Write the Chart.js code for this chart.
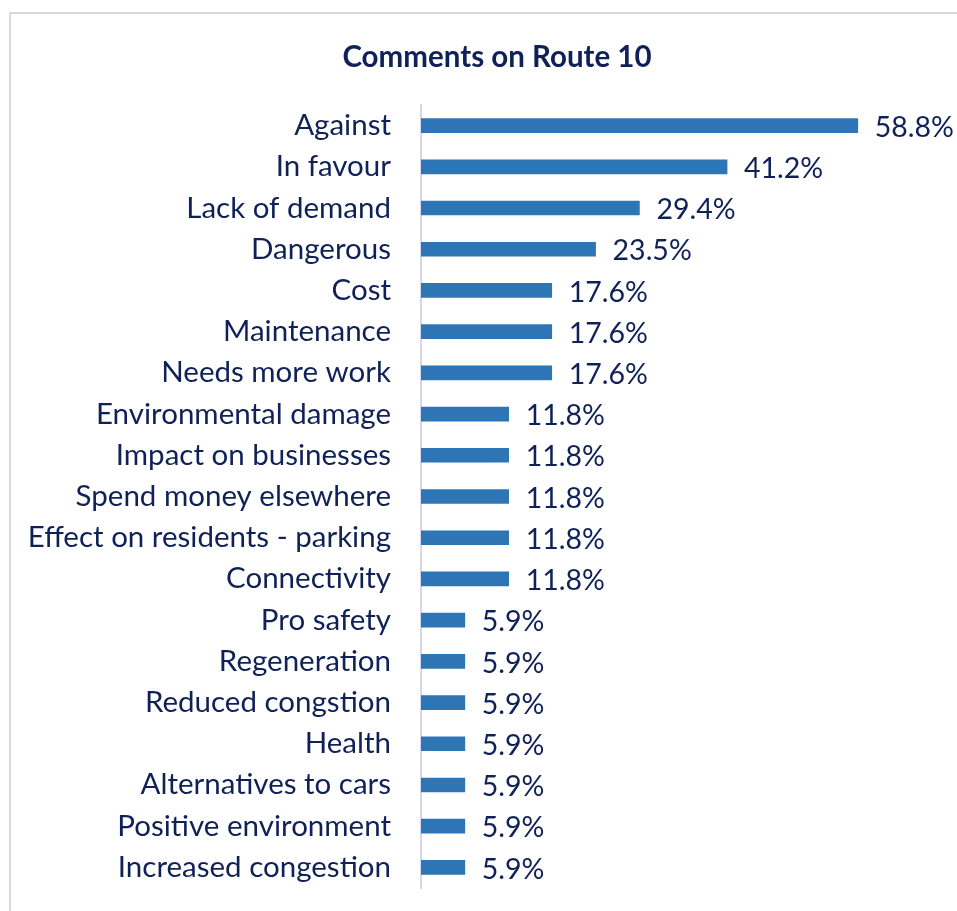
<!DOCTYPE html>
<html>
<head>
<meta charset="utf-8">
<script src="https://cdn.jsdelivr.net/npm/chart.js@4/dist/chart.umd.min.js"></script>
<style>
  html, body { margin: 0; padding: 0; background: #ffffff; overflow: hidden; }
  #wrap { position: relative; width: 957px; height: 911px; }
</style>
</head>
<body>
<div id="wrap"><canvas id="chart" width="957" height="911"></canvas></div>
<script>
// Share of comments mentioning each theme (percent)
const chartTitle = 'Comments on Route 10';
const categories = [
  'Against',
  'In favour',
  'Lack of demand',
  'Dangerous',
  'Cost',
  'Maintenance',
  'Needs more work',
  'Environmental damage',
  'Impact on businesses',
  'Spend money elsewhere',
  'Effect on residents - parking',
  'Connectivity',
  'Pro safety',
  'Regeneration',
  'Reduced congstion',
  'Health',
  'Alternatives to cars',
  'Positive environment',
  'Increased congestion'
];
const shares = [58.8, 41.2, 29.4, 23.5, 17.6, 17.6, 17.6, 11.8, 11.8, 11.8, 11.8, 11.8, 5.9, 5.9, 5.9, 5.9, 5.9, 5.9, 5.9];

const TEXT = '#0f2157';
const FONT = 'Lato, "Open Sans", sans-serif';

// Frame around the chart and the heading
const framePlugin = {
  id: 'frame',
  beforeDraw(chart) {
    const ctx = chart.ctx;
    ctx.save();
    ctx.strokeStyle = '#d9d9d9';
    ctx.lineWidth = 2;
    ctx.strokeRect(10, 13, 1000, 1000);
    ctx.fillStyle = TEXT;
    ctx.font = 'bold 29.5px ' + FONT;
    ctx.textAlign = 'center';
    ctx.textBaseline = 'middle';
    ctx.fillText(chartTitle, 497, 57);
    ctx.restore();
  }
};

// Percentage label at the end of every bar
const valueLabels = {
  id: 'valueLabels',
  afterDatasetsDraw(chart) {
    const ctx = chart.ctx;
    const meta = chart.getDatasetMeta(0);
    ctx.save();
    ctx.fillStyle = TEXT;
    ctx.font = '28.5px ' + FONT;
    ctx.textAlign = 'left';
    ctx.textBaseline = 'middle';
    meta.data.forEach((bar, i) => {
      ctx.fillText(shares[i].toFixed(1) + '%', bar.x + 17, bar.y + 2);
    });
    ctx.restore();
  }
};

new Chart(document.getElementById('chart'), {
  type: 'bar',
  data: {
    labels: categories,
    datasets: [{
      data: shares,
      backgroundColor: '#2e75b6',
      borderWidth: 0,
      barThickness: 14
    }]
  },
  options: {
    indexAxis: 'y',
    responsive: false,
    animation: false,
    layout: { padding: { top: 105, bottom: 23, left: 0, right: 16 } },
    plugins: {
      legend: { display: false },
      title: { display: false },
      tooltip: { enabled: false }
    },
    scales: {
      x: {
        display: false,
        min: 0,
        max: 70
      },
      y: {
        afterFit(scale) {
          scale.width = 421;
          scale.paddingTop = 0;
          scale.paddingBottom = 0;
        },
        grid: { display: false, drawTicks: false },
        border: { display: true, color: '#d6d6f0', width: 2 },
        ticks: {
          color: TEXT,
          padding: 30,
          font: { family: FONT, size: 29.5 },
          autoSkip: false
        }
      }
    }
  },
  plugins: [framePlugin, valueLabels]
});
</script>
</body>
</html>
